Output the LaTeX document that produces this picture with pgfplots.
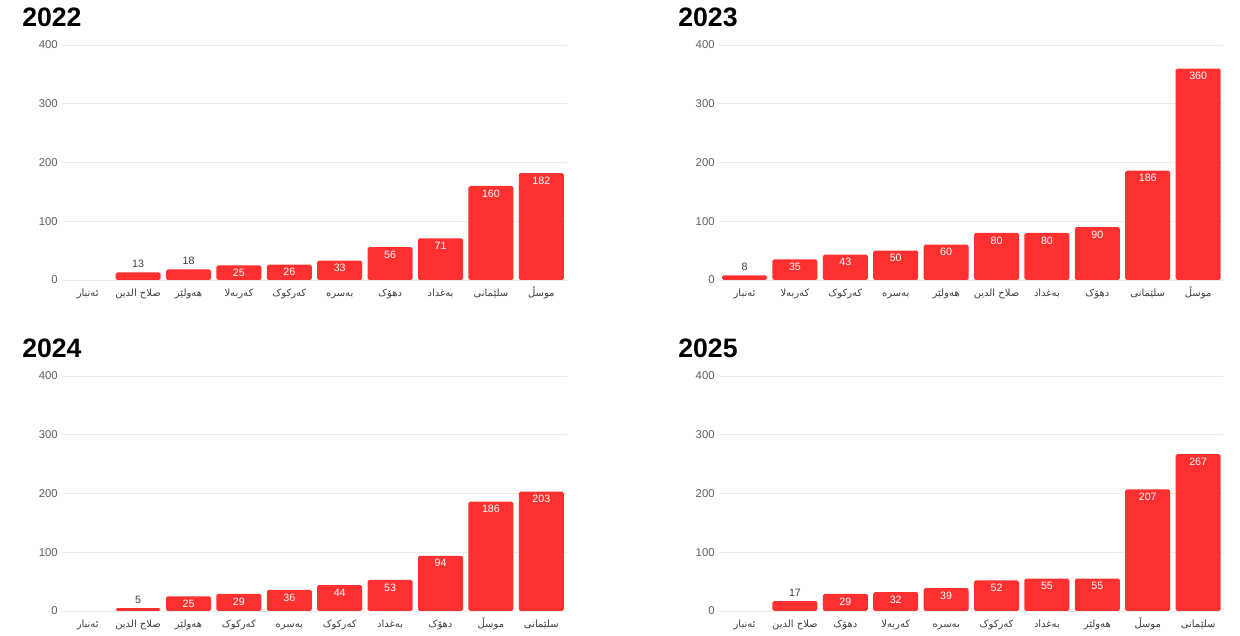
\documentclass[border=0pt]{standalone}
\usepackage{fontspec}
\usepackage{pgfplots}
\pgfplotsset{compat=1.18}
\setmainfont{Liberation Sans}
\newfontfamily\arabicfont[Script=Arabic]{DejaVu Sans}
\TeXXeTstate=1
\newcommand{\ar}[1]{{\arabicfont\fontsize{7.5}{8}\selectfont\beginR #1\endR}}

\definecolor{barred}{RGB}{255,48,48}
\definecolor{ticktext}{RGB}{95,95,95}
\definecolor{gridgray}{RGB}{236,236,236}
\definecolor{smalltext}{RGB}{60,60,60}

\pgfplotsset{
  /pgf/number format/assume math mode=true,
  panel/.style={
    ybar, bar shift=0pt, bar width=33.75pt,
    scale only axis, width=378pt, height=176.25pt,
    anchor=south west,
    xmin=-0.5, xmax=9.5, ymin=0, ymax=400,
    ytick={0,100,...,400}, xtick={0,...,9},
    ymajorgrids, grid style={gridgray, line width=0.6pt},
    axis line style={draw=none}, major tick length=0pt,
    tick label style={font=\fontsize{8.5}{10}\selectfont, text=ticktext},
    xticklabel style={text=smalltext, text height=7pt, text depth=2.5pt, yshift=-1.5pt},
    clip=false,
  },
  bars/.style={fill=barred, draw=none, rounded corners=1.2pt, restrict y to domain=0.5:1000},
  inlabels/.style={draw=none, fill=none, restrict y to domain=20:1000,
    nodes near coords,
    every node near coord/.append style={font=\fontsize{8}{9}\selectfont, text=white, yshift=-12pt}},
  toplabels/.style={draw=none, fill=none, restrict y to domain=1:19.99,
    nodes near coords,
    every node near coord/.append style={font=\fontsize{8}{9}\selectfont, text=smalltext}},
}

\begin{document}
\begin{tikzpicture}
\path (0,0) rectangle (930pt,477pt);

% 2022
\node[anchor=west, inner sep=0, font=\bfseries\fontsize{20}{24}\selectfont] at (16.5pt,464pt) {2022};
\begin{axis}[panel, at={(46.875pt,267pt)},
  xticklabels={\ar{ئەنبار},\ar{صلاح الدين},\ar{هەولێر},\ar{کەربەلا},\ar{کەرکوک},\ar{بەسرە},\ar{دهۆک},\ar{بەغداد},\ar{سلێمانی},\ar{موسڵ}}]
  \addplot[bars] coordinates {(0,0) (1,13) (2,18) (3,25) (4,26) (5,33) (6,56) (7,71) (8,160) (9,182)};
  \addplot[inlabels] coordinates {(0,0) (1,13) (2,18) (3,25) (4,26) (5,33) (6,56) (7,71) (8,160) (9,182)};
  \addplot[toplabels] coordinates {(0,0) (1,13) (2,18) (3,25) (4,26) (5,33) (6,56) (7,71) (8,160) (9,182)};
\end{axis}

% 2023
\node[anchor=west, inner sep=0, font=\bfseries\fontsize{20}{24}\selectfont] at (508.5pt,464pt) {2023};
\begin{axis}[panel, at={(539.5pt,267pt)},
  xticklabels={\ar{ئەنبار},\ar{کەربەلا},\ar{کەرکوک},\ar{بەسرە},\ar{هەولێر},\ar{صلاح الدين},\ar{بەغداد},\ar{دهۆک},\ar{سلێمانی},\ar{موسڵ}}]
  \addplot[bars] coordinates {(0,8) (1,35) (2,43) (3,50) (4,60) (5,80) (6,80) (7,90) (8,186) (9,360)};
  \addplot[inlabels] coordinates {(0,8) (1,35) (2,43) (3,50) (4,60) (5,80) (6,80) (7,90) (8,186) (9,360)};
  \addplot[toplabels] coordinates {(0,8) (1,35) (2,43) (3,50) (4,60) (5,80) (6,80) (7,90) (8,186) (9,360)};
\end{axis}

% 2024
\node[anchor=west, inner sep=0, font=\bfseries\fontsize{20}{24}\selectfont] at (16.5pt,216pt) {2024};
\begin{axis}[panel, at={(46.875pt,18.75pt)},
  xticklabels={\ar{ئەنبار},\ar{صلاح الدين},\ar{هەولێر},\ar{کەرکوک},\ar{بەسرە},\ar{کەرکوک},\ar{بەغداد},\ar{دهۆک},\ar{موسڵ},\ar{سلێمانی}}]
  \addplot[bars] coordinates {(0,0) (1,5) (2,25) (3,29) (4,36) (5,44) (6,53) (7,94) (8,186) (9,203)};
  \addplot[inlabels] coordinates {(0,0) (1,5) (2,25) (3,29) (4,36) (5,44) (6,53) (7,94) (8,186) (9,203)};
  \addplot[toplabels] coordinates {(0,0) (1,5) (2,25) (3,29) (4,36) (5,44) (6,53) (7,94) (8,186) (9,203)};
\end{axis}

% 2025
\node[anchor=west, inner sep=0, font=\bfseries\fontsize{20}{24}\selectfont] at (508.5pt,216pt) {2025};
\begin{axis}[panel, at={(539.5pt,18.75pt)},
  xticklabels={\ar{ئەنبار},\ar{صلاح الدين},\ar{دهۆک},\ar{کەربەلا},\ar{بەسرە},\ar{کەرکوک},\ar{بەغداد},\ar{هەولێر},\ar{موسڵ},\ar{سلێمانی}}]
  \addplot[bars] coordinates {(0,0) (1,17) (2,29) (3,32) (4,39) (5,52) (6,55) (7,55) (8,207) (9,267)};
  \addplot[inlabels] coordinates {(0,0) (1,17) (2,29) (3,32) (4,39) (5,52) (6,55) (7,55) (8,207) (9,267)};
  \addplot[toplabels] coordinates {(0,0) (1,17) (2,29) (3,32) (4,39) (5,52) (6,55) (7,55) (8,207) (9,267)};
\end{axis}
\end{tikzpicture}
\end{document}
